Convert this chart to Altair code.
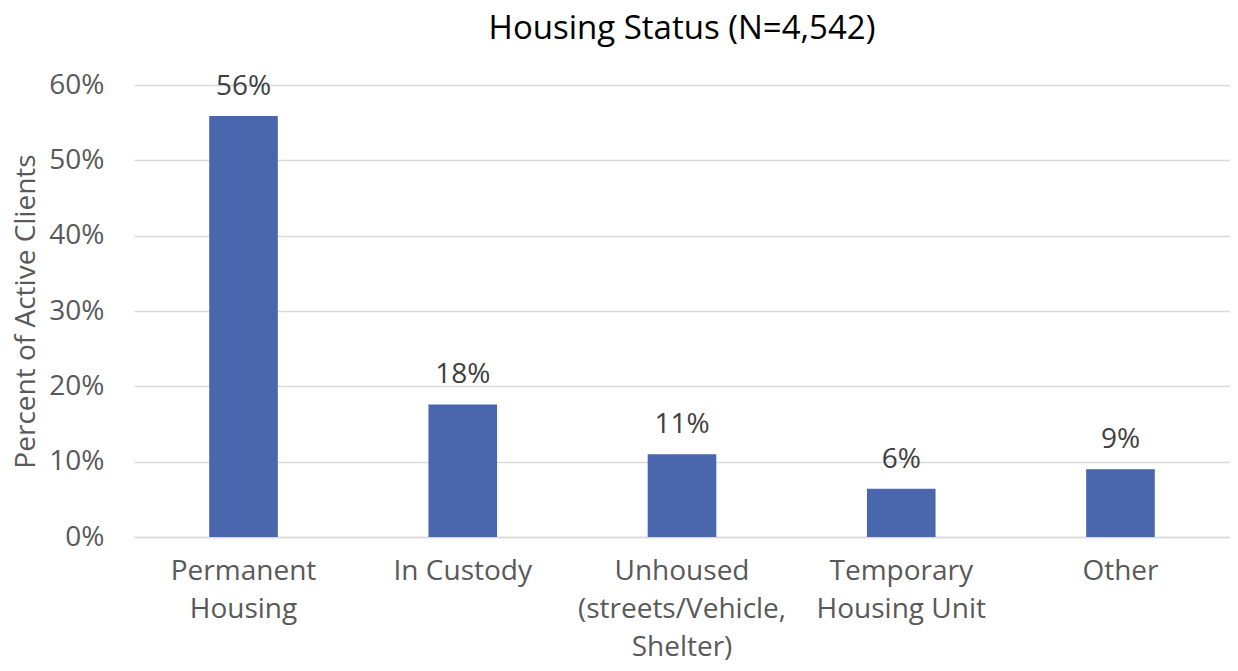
import altair as alt
import pandas as pd

categories = ["Permanent|Housing", "In Custody", "Unhoused|(streets/Vehicle,|Shelter)", "Temporary|Housing Unit", "Other"]
values = [0.559, 0.176, 0.110, 0.064, 0.090]
labels = ["56%", "18%", "11%", "6%", "9%"]

df = pd.DataFrame({"cat": categories, "val": values, "lab": labels})
FONT = "Open Sans"
GREY = "#595959"

base = alt.Chart(df).encode(
    x=alt.X("cat:N", sort=categories, title=None,
            scale=alt.Scale(paddingInner=0.687, paddingOuter=0.343),
            axis=alt.Axis(labelExpr="split(datum.label, '|')", labelAngle=0,
                          labelFont=FONT, labelFontSize=28, labelColor=GREY,
                          labelPadding=20, labelLineHeight=38, labelLimit=0,
                          ticks=False, domainColor="#d9d9d9", domainWidth=1.5)),
)

bars = base.mark_bar(color="#4a67ad").encode(
    y=alt.Y("val:Q", title="Percent of Active Clients",
            scale=alt.Scale(domain=[0, 0.6]),
            axis=alt.Axis(format=".0%", values=[0, 0.1, 0.2, 0.3, 0.4, 0.5, 0.6],
                          labelFont=FONT, labelFontSize=28, labelColor=GREY,
                          titleFont=FONT, titleFontSize=28, titleColor=GREY,
                          titleFontWeight="normal", titlePadding=8,
                          labelPadding=30,
                          ticks=False, domain=False, gridColor="#d9d9d9", gridWidth=1.5)),
)

text = base.mark_text(font=FONT, fontSize=28, color="#404040", baseline="bottom", dy=-15).encode(
    y="val:Q", text="lab:N"
)

chart = (bars + text).properties(
    width=1096, height=452,
    padding={"top": 5, "left": 4, "right": 0, "bottom": 2},
    title=alt.TitleParams("Housing Status (N=4,542)", font=FONT, fontSize=33,
                          fontWeight="normal", color="#000000", offset=25),
).configure_view(stroke=None).configure_axisY(grid=True).configure_axisX(grid=False)

chart.save("out.html", embed_options={"renderer": "svg", "actions": False})
